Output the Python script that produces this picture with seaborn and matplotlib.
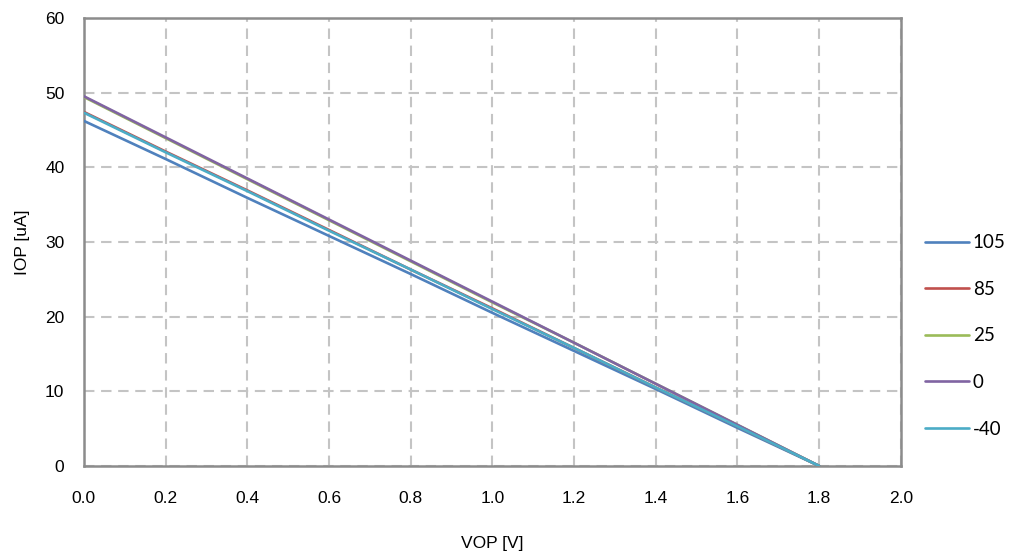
import pandas as pd
import seaborn as sns
import matplotlib.pyplot as plt

sns.set_style("white")
plt.rcParams['font.family'] = ['Liberation Sans', 'DejaVu Sans']
plt.rcParams['text.color'] = 'black'
plt.rcParams['xtick.color'] = 'black'
plt.rcParams['ytick.color'] = 'black'
plt.rcParams['axes.labelcolor'] = 'black'

# data (IOP in uA vs VOP in V)
vop = [0.0, 0.2, 0.4, 0.6, 0.8, 1.0, 1.2, 1.4, 1.6, 1.8]
iop_105 = [46.2, 41.1, 35.9, 30.8, 25.7, 20.5, 15.4, 10.3, 5.1, 0.0]
iop_85 = [47.4, 42.1, 36.9, 31.6, 26.3, 21.1, 15.8, 10.5, 5.3, 0.0]
iop_25 = [49.4, 43.9, 38.4, 32.9, 27.4, 21.9, 16.5, 11.0, 5.5, 0.0]
iop_0 = [49.5, 44.0, 38.5, 33.0, 27.5, 22.0, 16.5, 11.0, 5.5, 0.0]
iop_m40 = [47.3, 42.0, 36.8, 31.5, 26.3, 21.0, 15.8, 10.5, 5.3, 0.0]

temps = ['105', '85', '25', '0', '-40']
colors = ['#4F81BD', '#C0504D', '#9BBB59', '#8064A2', '#4BACC6']

frames = []
for t, vals in zip(temps, [iop_105, iop_85, iop_25, iop_0, iop_m40]):
    frames.append(pd.DataFrame({'VOP': vop, 'IOP': vals, 'temp': t}))
data = pd.concat(frames)

fig = plt.figure(figsize=(10.11, 5.58), dpi=100)
ax = fig.add_axes([0.083, 0.165, 0.808, 0.803])

sns.lineplot(data=data, x='VOP', y='IOP', hue='temp', hue_order=temps,
             palette=colors, linewidth=1.9, ax=ax, zorder=3)

ax.set_xlim(0, 2.0)
ax.set_ylim(0, 60)
ax.set_xticks([i / 10 for i in range(0, 21, 2)])
ax.set_yticks(range(0, 61, 10))
ax.set_xticklabels([f'{i / 10:.1f}' for i in range(0, 21, 2)])
ax.tick_params(axis='both', length=0, labelsize=12.5)
ax.tick_params(axis='x', pad=18)
ax.tick_params(axis='y', pad=14)

ax.grid(True, color='#c4c4c4', linestyle=(0, (5, 3.2)), linewidth=1.5)
ax.set_axisbelow(True)
for s in ax.spines.values():
    s.set_color('#8c8c8c')
    s.set_linewidth(1.8)

ax.set_xlabel('VOP [V]', fontsize=12.5, labelpad=22)
ax.set_ylabel('IOP [uA]', fontsize=12.5, labelpad=11)

ax.legend_.remove()
handles, labels = ax.get_legend_handles_labels()
fig.legend(handles, labels, loc='center left', bbox_to_anchor=(0.915, 0.398),
           frameon=False, prop={'family': 'Lato', 'size': 13.5}, handlelength=2.35,
           handletextpad=0.2, labelspacing=1.58, borderpad=0, borderaxespad=0)

plt.savefig('out.png', dpi=100)
